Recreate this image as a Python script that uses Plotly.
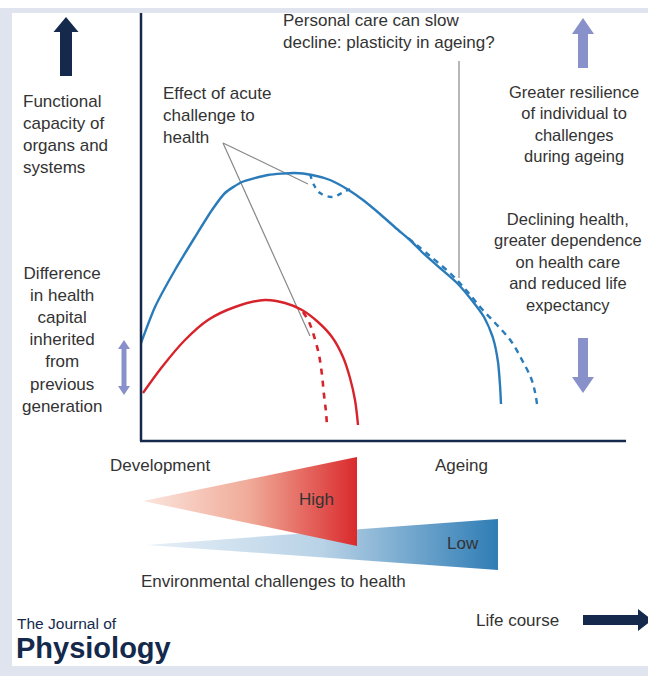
import plotly.graph_objects as go

# ---------------- data ----------------
blue_x = [141, 155, 175, 195, 212, 225, 242, 268, 295, 312, 330, 347, 363, 380, 397, 410, 423, 440, 457, 470, 484, 493, 498, 500, 501]
blue_y = [343, 307, 270, 237, 210, 193, 182, 175, 173, 175, 180, 189, 200, 214, 229, 240, 253, 268, 283, 298, 317, 338, 362, 385, 404]

care_x = [408, 430, 451, 466, 481, 497, 511, 522, 531, 535, 537]
care_y = [238, 256, 274, 290, 308, 325, 341, 360, 378, 392, 404]

dip_x = [310, 314, 320, 332, 342, 350]
dip_y = [174, 185, 193, 197, 193, 189]

red_x = [143, 162, 185, 208, 235, 265, 285, 302, 318, 332, 343, 350, 355, 358]
red_y = [393, 367, 340, 320, 307, 300, 303, 310, 322, 337, 357, 378, 400, 425]

red_dash_x = [303, 309, 314, 319, 322, 324, 326, 327]
red_dash_y = [312, 322, 336, 355, 375, 395, 412, 426]

# environmental challenge wedges
high_x = [143, 357, 357, 143]
high_y = [501, 457, 546, 501]
low_x = [147, 498, 498, 147]
low_y = [545, 519, 570, 545]

# annotation pointer lines
ptr1_x = [223, 308]
ptr1_y = [143, 184]
ptr2_x = [223, 310]
ptr2_y = [143, 336]
ptr3_x = [459, 459]
ptr3_y = [61, 278]

NAVY = "#14294c"
LAV = "#8891c9"
BLUE = "#2a7bb9"
RED = "#d7232b"
GREY = "#888888"
TXT = "#333333"
FONT = "Liberation Sans, Arial, sans-serif"


def up_arrow(cx, top, bottom, shaft, head, head_h):
    xs = [cx - shaft / 2, cx - shaft / 2, cx - head / 2, cx, cx + head / 2, cx + shaft / 2, cx + shaft / 2, cx - shaft / 2]
    ys = [bottom, top + head_h, top + head_h, top, top + head_h, top + head_h, bottom, bottom]
    return xs, ys


def down_arrow(cx, top, bottom, shaft, head, head_h):
    xs = [cx - shaft / 2, cx - shaft / 2, cx - head / 2, cx, cx + head / 2, cx + shaft / 2, cx + shaft / 2, cx - shaft / 2]
    ys = [top, bottom - head_h, bottom - head_h, bottom, bottom - head_h, bottom - head_h, top, top]
    return xs, ys


def double_arrow(cx, top, bottom, shaft, head, head_h):
    xs = [cx, cx + head / 2, cx + shaft / 2, cx + shaft / 2, cx + head / 2, cx, cx - head / 2, cx - shaft / 2, cx - shaft / 2, cx - head / 2, cx]
    ys = [top, top + head_h, top + head_h, bottom - head_h, bottom - head_h, bottom, bottom - head_h, bottom - head_h, top + head_h, top + head_h, top]
    return xs, ys


def right_arrow(left, tip, cy, shaft, head, head_w):
    xs = [left, tip - head_w, tip - head_w, tip, tip - head_w, tip - head_w, left, left]
    ys = [cy - shaft / 2, cy - shaft / 2, cy - head / 2, cy, cy + head / 2, cy + shaft / 2, cy + shaft / 2, cy - shaft / 2]
    return xs, ys


fig = go.Figure()

# wedges (blue below red)
fig.add_trace(go.Scatter(x=low_x, y=low_y, mode="lines", fill="toself", line=dict(width=0),
                         fillgradient=dict(type="horizontal",
                                           colorscale=[[0, "#e6eff7"], [0.5, "#b8d2e6"], [1, "#2f7db5"]]),
                         hoverinfo="skip", showlegend=False))
fig.add_trace(go.Scatter(x=high_x, y=high_y, mode="lines", fill="toself", line=dict(width=0),
                         fillgradient=dict(type="horizontal",
                                           colorscale=[[0, "#fbe6de"], [0.5, "#f0aa98"], [1, "#da2a2c"]]),
                         hoverinfo="skip", showlegend=False))

# pointer lines
for px, py in [(ptr1_x, ptr1_y), (ptr2_x, ptr2_y), (ptr3_x, ptr3_y)]:
    fig.add_trace(go.Scatter(x=px, y=py, mode="lines", line=dict(color=GREY, width=1.2),
                             hoverinfo="skip", showlegend=False))

# curves
fig.add_trace(go.Scatter(x=care_x, y=care_y, mode="lines", line=dict(color=BLUE, width=2.4, dash="6px,5px", shape="spline"),
                         showlegend=False))
fig.add_trace(go.Scatter(x=dip_x, y=dip_y, mode="lines", line=dict(color=BLUE, width=2.4, dash="5px,5px", shape="spline"),
                         showlegend=False))
fig.add_trace(go.Scatter(x=blue_x, y=blue_y, mode="lines", line=dict(color=BLUE, width=2.4, shape="spline", smoothing=0.6),
                         showlegend=False))
fig.add_trace(go.Scatter(x=red_dash_x, y=red_dash_y, mode="lines", line=dict(color=RED, width=2.6, dash="6px,6px", shape="spline"),
                         showlegend=False))
fig.add_trace(go.Scatter(x=red_x, y=red_y, mode="lines", line=dict(color=RED, width=2.4, shape="spline", smoothing=1),
                         showlegend=False))

# arrows
arrows = [
    (up_arrow(66, 17, 76, 12, 25, 15), NAVY),
    (up_arrow(583, 18, 68, 10, 22, 16), LAV),
    (down_arrow(583, 338, 393, 10, 22, 16), LAV),
    (double_arrow(124, 340, 395, 5, 12, 9), LAV),
    (right_arrow(583, 652, 620, 10, 22, 14), NAVY),
]
for (ax, ay), col in arrows:
    fig.add_trace(go.Scatter(x=ax, y=ay, mode="lines", fill="toself", fillcolor=col, line=dict(width=0),
                             hoverinfo="skip", showlegend=False))

shapes = [
    dict(type="rect", x0=0, x1=12, y0=8, y1=676, fillcolor="#dfe4ee", line=dict(width=0), layer="below"),
    dict(type="rect", x0=0, x1=648, y0=8, y1=13, fillcolor="#dfe4ee", line=dict(width=0), layer="below"),
    dict(type="rect", x0=0, x1=648, y0=666, y1=676, fillcolor="#dfe4ee", line=dict(width=0), layer="below"),
    dict(type="line", x0=141, x1=141, y0=13, y1=441, line=dict(color=NAVY, width=2.5)),
    dict(type="line", x0=140, x1=626, y0=441, y1=441, line=dict(color=NAVY, width=2.5)),
]


def txt(x, y, text, xanchor="center", align="center", size=17, color=TXT, family=FONT):
    return dict(x=x, y=y, xref="x", yref="y", text=text, showarrow=False, xanchor=xanchor, yanchor="middle",
                align=align, font=dict(size=size, color=color, family=family))


annotations = [
    txt(21, 134, "Functional<br>capacity of<br>organs and<br>systems", xanchor="left", align="left"),
    txt(62, 340, "Difference<br>in health<br>capital<br>inherited<br>from<br>previous<br>generation"),
    txt(161, 115, "Effect of acute<br>challenge to<br>health", xanchor="left", align="left"),
    txt(281, 31, "Personal care can slow<br>decline: plasticity in ageing?", xanchor="left", align="left"),
    txt(574, 124, "Greater resilience<br>of individual to<br>challenges<br>during ageing", size=16.5),
    txt(568, 262, "Declining health,<br>greater dependence<br>on health care<br>and reduced life<br>expectancy", size=16.5),
    txt(160, 465, "Development"),
    txt(461, 465, "Ageing"),
    txt(316, 499, "High"),
    txt(463, 543, "Low"),
    txt(273, 581, "Environmental challenges to health"),
    txt(517, 620, "Life course"),
    txt(15, 623, "The Journal of", xanchor="left", align="left", size=15.5, color=NAVY),
    txt(14, 648, "<b>Physiology</b>", xanchor="left", align="left", size=29, color=NAVY),
]

fig.update_layout(
    width=648, height=676,
    margin=dict(l=0, r=0, t=0, b=0),
    paper_bgcolor="white", plot_bgcolor="white",
    xaxis=dict(range=[0, 648], visible=False, fixedrange=True),
    yaxis=dict(range=[676, 0], visible=False, fixedrange=True),
    shapes=shapes, annotations=annotations,
    showlegend=False,
)

fig.write_html("out.html", config={"displayModeBar": False},
               post_script="document.body.style.margin='0';document.body.style.overflow='hidden';")
